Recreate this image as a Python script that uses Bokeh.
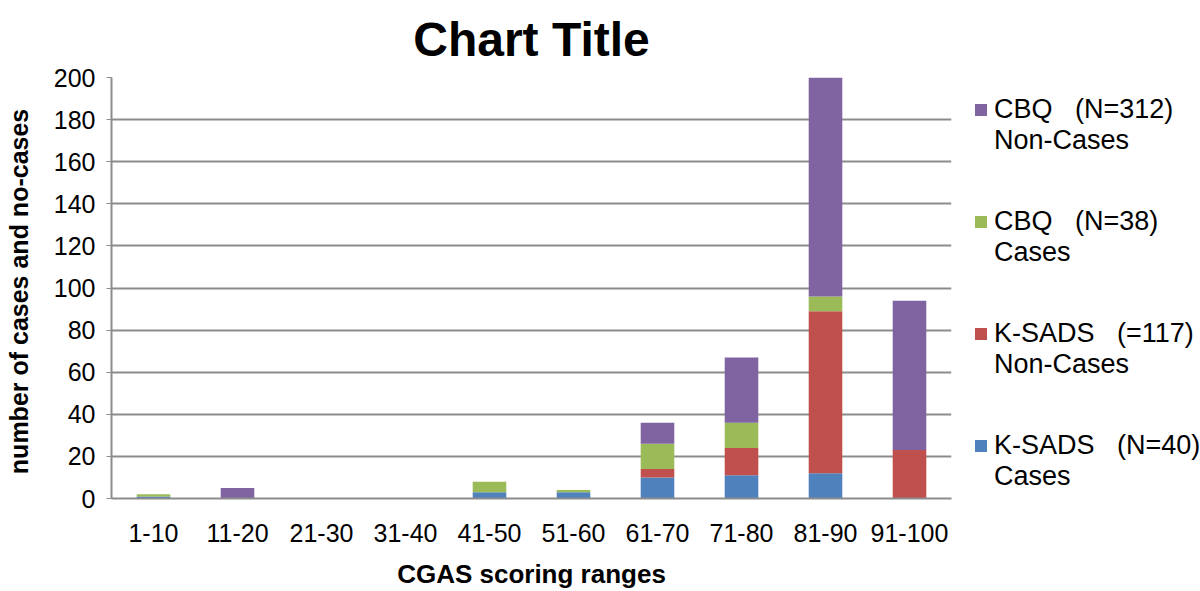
from bokeh.plotting import figure
from bokeh.models import Range1d, Legend, LegendItem, ColumnDataSource, FactorRange
from bokeh.embed import file_html
from bokeh.resources import INLINE

categories = ["1-10", "11-20", "21-30", "31-40", "41-50", "51-60", "61-70", "71-80", "81-90", "91-100"]
ksads_cases = [1, 0, 0, 0, 3, 3, 10, 11, 12, 0]
ksads_noncases = [0, 0, 0, 0, 0, 0, 4, 13, 77, 23]
cbq_cases = [1, 0, 0, 0, 5, 1, 12, 12, 7, 0]
cbq_noncases = [0, 5, 0, 0, 0, 0, 10, 31, 104, 71]

series_keys = ["ksads_cases", "ksads_noncases", "cbq_cases", "cbq_noncases"]
series_colors = ["#4F81BD", "#C0504D", "#9BBB59", "#8064A2"]
legend_first_lines = ["K-SADS   (N=40)", "K-SADS   (=117)", "CBQ   (N=38)", "CBQ   (N=312)"]
legend_second_lines = ["Cases", "Non-Cases", "Cases", "Non-Cases"]
y_ticks = [0, 20, 40, 60, 80, 100, 120, 140, 160, 180, 200]

FONT = "Liberation Sans"

source = ColumnDataSource(dict(
    cat=categories,
    ksads_cases=ksads_cases,
    ksads_noncases=ksads_noncases,
    cbq_cases=cbq_cases,
    cbq_noncases=cbq_noncases,
))

p = figure(x_range=FactorRange(*categories), y_range=Range1d(0, 200),
           frame_width=840, frame_height=421,
           min_border_left=111, min_border_right=249, min_border_top=77, min_border_bottom=93,
           output_backend="svg", toolbar_location=None, title="Chart Title")

renderers = p.vbar_stack(series_keys, x="cat", width=0.4, color=series_colors,
                         source=source, line_color=None)

p.title.align = "center"
p.title.vertical_align = "top"
p.title.offset = 5
p.title.text_font = FONT
p.title.text_font_size = "48px"
p.title.text_font_style = "bold"
p.title.text_color = "black"
p.title.text_line_height = 0.7
p.title.standoff = 20

p.outline_line_color = None
p.background_fill_color = "white"
p.border_fill_color = "white"

p.ygrid.grid_line_color = "#8c8c8c"
p.ygrid.grid_line_width = 2
p.xgrid.grid_line_color = None

p.yaxis.ticker = y_ticks
p.yaxis.axis_line_color = "#8c8c8c"
p.yaxis.axis_line_width = 2
p.yaxis.major_tick_line_color = "#8c8c8c"
p.yaxis.major_tick_out = 5
p.yaxis.major_tick_in = 0
p.yaxis.minor_tick_line_color = None
p.yaxis.major_label_text_font = FONT
p.yaxis.major_label_text_font_size = "25px"
p.yaxis.major_label_text_color = "black"
p.yaxis.major_label_standoff = 11
p.yaxis.axis_label = "number  of cases and no-cases"
p.yaxis.axis_label_text_font = FONT
p.yaxis.axis_label_text_font_size = "25px"
p.yaxis.axis_label_text_font_style = "bold"
p.yaxis.axis_label_text_color = "black"
p.yaxis.axis_label_standoff = 18

p.xaxis.axis_line_color = "#8c8c8c"
p.xaxis.axis_line_width = 2
p.xaxis.major_tick_line_color = None
p.xaxis.minor_tick_line_color = None
p.xaxis.major_label_text_font = FONT
p.xaxis.major_label_text_font_size = "25px"
p.xaxis.major_label_text_color = "black"
p.xaxis.major_label_standoff = 19
p.xaxis.axis_label = "CGAS scoring ranges"
p.xaxis.axis_label_text_font = FONT
p.xaxis.axis_label_text_font_size = "26px"
p.xaxis.axis_label_text_font_style = "bold"
p.xaxis.axis_label_text_color = "black"
p.xaxis.axis_label_standoff = 14

order = [3, 2, 1, 0]
items = [LegendItem(label=" \n" + legend_first_lines[i] + "\n" + legend_second_lines[i],
                    renderers=[renderers[i]]) for i in order]
legend = Legend(items=items, location=(22, 6), padding=10, margin=0,
                glyph_width=15, glyph_height=15, label_standoff=6,
                label_text_font=FONT, label_text_font_size="27px", label_text_color="black",
                spacing=19, border_line_color=None, background_fill_alpha=0)
p.add_layout(legend, "right")

open("out.html", "w").write(file_html(p, INLINE))
